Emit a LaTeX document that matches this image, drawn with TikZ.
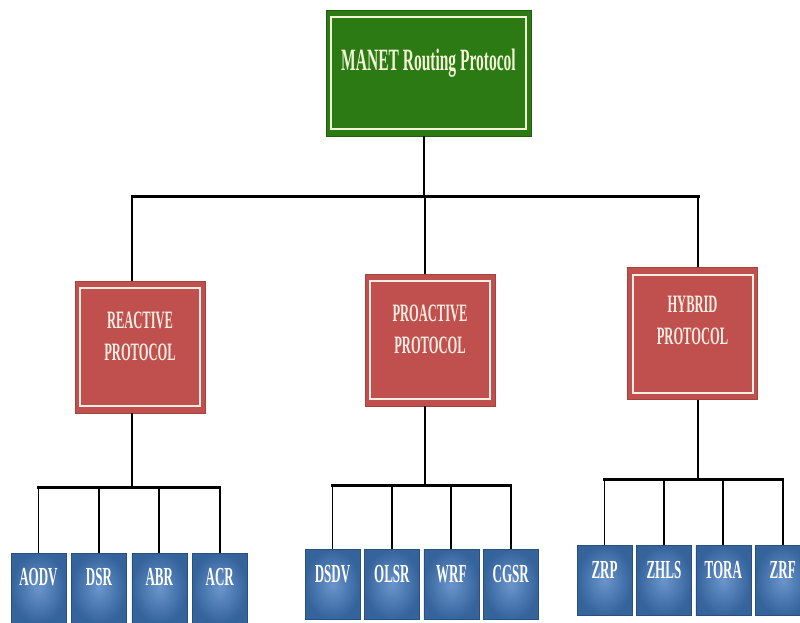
\documentclass[tikz,border=0pt]{standalone}
\usepackage{fontspec}
\newfontfamily\boxfont[
    FakeStretch=0.5,
    BoldFont={Liberation Serif Bold},
    BoldFeatures={FakeStretch=0.5}
]{Liberation Serif}
\usetikzlibrary{positioning}

\definecolor{rootgreen}{HTML}{2B7A14}
\definecolor{rootedge}{HTML}{1F5E0C}
\definecolor{rootink}{HTML}{F2F6D6}
\definecolor{groupred}{HTML}{C0504D}
\definecolor{groupedge}{HTML}{A8403D}
\definecolor{groupink}{HTML}{FAEDE4}
\definecolor{leafblue}{HTML}{35639C}
\definecolor{leaflight}{HTML}{6A95CC}
\definecolor{leafedge}{HTML}{27507F}

\tikzset{
    inset/.style={
        path picture={
            \draw[line width=2pt, #1]
                ([shift={(5pt,7pt)}]path picture bounding box.south west)
                    rectangle
                ([shift={(-5pt,-7pt)}]path picture bounding box.north east);
        }
    },
    rootbox/.style={
        draw=rootedge, fill=rootgreen, line width=0.8pt,
        minimum width=205pt, minimum height=126pt,
        inset=rootink, text=rootink,
        font={\boxfont\bfseries\fontsize{31}{36}\selectfont},
        text height=24pt, text depth=29pt
    },
    groupbox/.style={
        draw=groupedge, fill=groupred, line width=0.8pt,
        minimum width=130pt, minimum height=132pt,
        inset=groupink
    },
    grouptext/.style={
        align=center, text=groupink, inner sep=0pt,
        font={\boxfont\bfseries\fontsize{25}{32}\selectfont}
    },
    leafbox/.style={
        draw=leafedge, inner color=leaflight, outer color=leafblue,
        minimum width=55pt, minimum height=70pt, inner sep=0pt,
        text=white,
        font={\boxfont\bfseries\fontsize{26}{30}\selectfont},
        text height=20pt, text depth=25pt
    },
    bus/.style={line width=3pt, line cap=rect},
    drop/.style={line width=1.8pt}
}

\begin{document}
\begin{tikzpicture}[x=1pt, y=-1pt]
    \useasboundingbox[fill=white] (0,0) rectangle (800,623);

    % root and the three groups
    \node[rootbox] (root) at (428.5,73) {MANET Routing Protocol};

    \node[groupbox] (reactive) at (140,347) {};
    \node[grouptext] (reactive-label) at ([yshift=11pt]reactive.center) {REACTIVE\\PROTOCOL};
    \node[groupbox] (proactive) at (430,340) {};
    \node[grouptext] (proactive-label) at ([yshift=11pt]proactive.center) {PROACTIVE\\PROTOCOL};
    \node[groupbox] (hybrid) at (692.5,333.5) {};
    \node[grouptext] (hybrid-label) at ([yshift=13pt]hybrid.center) {HYBRID\\PROTOCOL};

    % leaves
    \node[leafbox] (aodv) at (38.5,588) {AODV};
    \node[leafbox, right=5pt of aodv] (dsr) {DSR};
    \node[leafbox, right=5pt of dsr] (abr) {ABR};
    \node[leafbox, right=5pt of abr] (acr) {ACR};

    \node[leafbox] (dsdv) at (332.5,584.5) {DSDV};
    \node[leafbox, right=4pt of dsdv] (olsr) {OLSR};
    \node[leafbox, right=4pt of olsr] (wrf) {WRF};
    \node[leafbox, right=4pt of wrf] (cgsr) {CGSR};

    \node[leafbox] (zrp) at (604.5,580.5) {ZRP};
    \node[leafbox, right=4pt of zrp] (zhls) {ZHLS};
    \node[leafbox, right=4pt of zhls] (tora) {TORA};
    \node[leafbox, right=4pt of tora] (zrf) {ZRF};

    % joints of the tree
    \coordinate (topjoin) at (424,196);
    \coordinate (rjoin) at (132,487);
    \coordinate (pjoin) at (425,485);
    \coordinate (hjoin) at (698,479);

    \draw[drop] (root.south -| topjoin) -- (topjoin);
    \draw[drop] (topjoin -| rjoin) -- (rjoin |- reactive.north);
    \draw[drop] (topjoin -| pjoin) -- (pjoin |- proactive.north);
    \draw[drop] (topjoin -| hjoin) -- (hjoin |- hybrid.north);
    \draw[bus] (topjoin -| rjoin) -- (topjoin -| hjoin);

    \draw[drop] (rjoin |- reactive.south) -- (rjoin);
    \draw[bus] (rjoin -| aodv.north) -- (rjoin -| acr.north);
    \foreach \leaf in {aodv,dsr,abr,acr}
        \draw[drop] (rjoin -| \leaf.north) -- (\leaf.north);

    \draw[drop] (pjoin |- proactive.south) -- (pjoin);
    \draw[bus] (pjoin -| dsdv.north) -- (pjoin -| cgsr.north);
    \foreach \leaf in {dsdv,olsr,wrf,cgsr}
        \draw[drop] (pjoin -| \leaf.north) -- (\leaf.north);

    \draw[drop] (hjoin |- hybrid.south) -- (hjoin);
    \draw[bus] (hjoin -| zrp.north) -- (hjoin -| zrf.north);
    \foreach \leaf in {zrp,zhls,tora,zrf}
        \draw[drop] (hjoin -| \leaf.north) -- (\leaf.north);
\end{tikzpicture}
\end{document}
